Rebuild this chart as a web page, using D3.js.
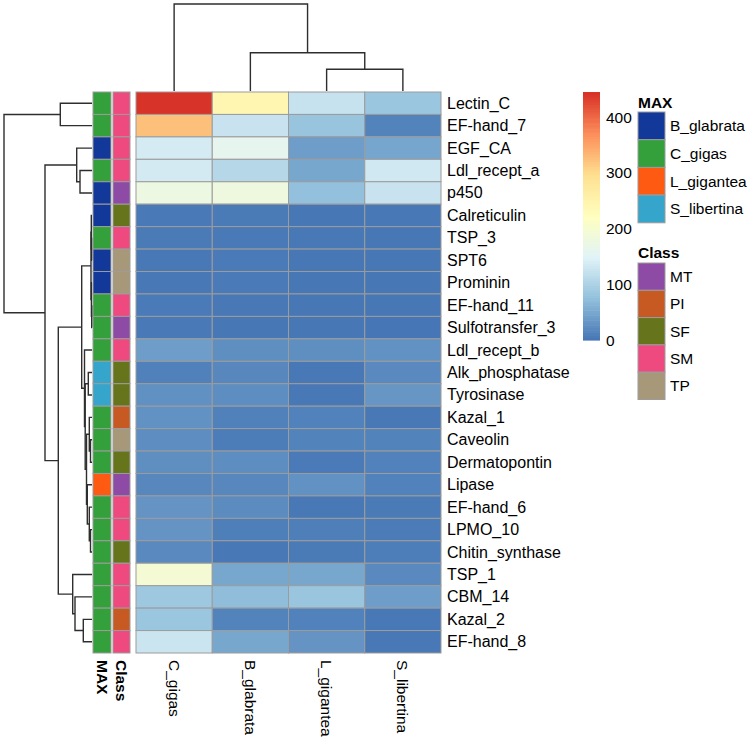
<!DOCTYPE html>
<html>
<head>
<meta charset="utf-8">
<script src="https://cdn.jsdelivr.net/npm/d3@7/dist/d3.min.js"></script>
<style>
  html, body { margin: 0; padding: 0; background: #fff; }
  text { font-family: "Liberation Sans", Arial, sans-serif; fill: #000; }
</style>
</head>
<body>
<svg id="chart" width="750" height="750"></svg>
<script>
// ---------------- DATA ----------------
const colNames = ["C_gigas", "B_glabrata", "L_gigantea", "S_libertina"];
const rowNames = ["Lectin_C", "EF-hand_7", "EGF_CA", "Ldl_recept_a", "p450", "Calreticulin", "TSP_3", "SPT6",
  "Prominin", "EF-hand_11", "Sulfotransfer_3", "Ldl_recept_b", "Alk_phosphatase", "Tyrosinase", "Kazal_1",
  "Caveolin", "Dermatopontin", "Lipase", "EF-hand_6", "LPMO_10", "Chitin_synthase", "TSP_1", "CBM_14",
  "Kazal_2", "EF-hand_8"];
const cGigas     = [443, 325, 137, 136, 178, 4, 6, 3, 3, 5, 4, 40, 12, 27, 28, 24, 25, 18, 30, 30, 20, 195, 86, 84, 128];
const bGlabrata  = [245, 126, 162, 108, 182, 6, 4, 5, 5, 3, 2, 25, 18, 24, 12, 8, 24, 18, 22, 10, 3, 50, 72, 14, 50];
const lGigantea  = [124, 81, 40, 50, 76, 2, 3, 2, 2, 2, 2, 25, 3, 3, 13, 14, 5, 28, 3, 10, 6, 50, 83, 13, 30];
const sLibertina = [84, 14, 48, 133, 126, 3, 2, 2, 2, 2, 1, 28, 20, 33, 3, 14, 13, 13, 6, 7, 9, 20, 40, 3, 3];
const seriesValues = [cGigas, bGlabrata, lGigantea, sLibertina];

const maxAnnot = ["C_gigas", "C_gigas", "B_glabrata", "C_gigas", "B_glabrata", "B_glabrata", "C_gigas", "B_glabrata",
  "B_glabrata", "C_gigas", "C_gigas", "C_gigas", "S_libertina", "S_libertina", "C_gigas", "C_gigas", "C_gigas",
  "L_gigantea", "C_gigas", "C_gigas", "C_gigas", "C_gigas", "C_gigas", "C_gigas", "C_gigas"];
const classAnnot = ["SM", "SM", "SM", "SM", "MT", "SF", "SM", "TP", "TP", "SM", "MT", "SM", "SF", "SF", "PI", "TP",
  "SF", "MT", "SM", "SM", "SF", "SM", "SM", "PI", "SM"];

const maxLevels = ["B_glabrata", "C_gigas", "L_gigantea", "S_libertina"];
const maxColors = ["#12389a", "#33a03c", "#ff5a12", "#35a5cc"];
const classLevels = ["MT", "PI", "SF", "SM", "TP"];
const classColors = ["#8e4ba6", "#c75a22", "#66741c", "#ef4a80", "#a8987a"];

const legendTicks = [0, 100, 200, 300, 400];
const valueMin = 0, valueMax = 445;
const heatColors = ["#4575B4", "#91BFDB", "#E0F3F8", "#FFFFBF", "#FEE090", "#FC8D59", "#D73027"];

// dendrogram merges: [left, right, height]; strings = leaves, numbers = earlier merge index
const rowMerges = [
  ["Lectin_C", "EF-hand_7", 317],      // 0
  ["Ldl_recept_a", "p450", 120],       // 1
  ["EGF_CA", 1, 153],                  // 2
  ["TSP_3", "SPT6", 4],                // 3
  ["Calreticulin", 3, 7],              // 4
  ["EF-hand_11", "Sulfotransfer_3", 3],// 5
  ["Prominin", 5, 6],                  // 6
  [4, 6, 10],                          // 7
  ["Alk_phosphatase", "Tyrosinase", 37], // 8
  ["Caveolin", "Dermatopontin", 15],   // 9
  ["Kazal_1", 9, 27],                  // 10
  ["LPMO_10", "Chitin_synthase", 15],  // 11
  ["EF-hand_6", 11, 27],               // 12
  ["Lipase", 12, 47],                  // 13
  [10, 13, 55],                        // 14
  [8, 14, 68],                         // 15
  ["Ldl_recept_b", 15, 75],            // 16
  [7, 16, 103],                        // 17
  ["Kazal_2", "EF-hand_8", 87],        // 18
  ["CBM_14", 18, 170],                 // 19
  ["TSP_1", 19, 193],                  // 20
  [17, 20, 337],                       // 21
  [2, 21, 470],                        // 22
  [0, 22, 880]                         // 23
];
const colMerges = [
  ["L_gigantea", "S_libertina", 217],  // 0
  ["B_glabrata", 0, 383],              // 1
  ["C_gigas", 1, 870]                  // 2
];

// ---------------- LAYOUT ----------------
const svg = d3.select("#chart");
const FONT = 15.5;
const ROWFONT = 16;
const heat = { x0: 136, x1: 441, y0: 92, y1: 653 };

const xCol = d3.scaleBand().domain(colNames).range([heat.x0, heat.x1]);
const yRow = d3.scaleBand().domain(rowNames).range([heat.y0, heat.y1]);
const color = d3.scaleLinear()
  .domain(d3.range(heatColors.length).map(i => valueMin + i * (valueMax - valueMin) / (heatColors.length - 1)))
  .range(heatColors).interpolate(d3.interpolateRgb).clamp(true);

const cells = [];
rowNames.forEach((r, i) => colNames.forEach((c, j) => cells.push({ r, c, v: seriesValues[j][i] })));

svg.append("rect").attr("width", 750).attr("height", 750).attr("fill", "#fff");

svg.append("g").selectAll("rect").data(cells).join("rect")
  .attr("x", d => xCol(d.c)).attr("y", d => yRow(d.r))
  .attr("width", xCol.bandwidth()).attr("height", yRow.bandwidth())
  .attr("fill", d => color(d.v))
  .attr("stroke", "#9c9c9c").attr("stroke-width", 1);

// annotation columns
const annCols = [
  { name: "MAX", x: 93, w: 18, vals: maxAnnot, scale: d3.scaleOrdinal(maxLevels, maxColors) },
  { name: "Class", x: 113, w: 17, vals: classAnnot, scale: d3.scaleOrdinal(classLevels, classColors) }
];
annCols.forEach(a => {
  svg.append("g").selectAll("rect").data(rowNames).join("rect")
    .attr("x", a.x).attr("y", r => yRow(r)).attr("width", a.w).attr("height", yRow.bandwidth())
    .attr("fill", (r, i) => a.scale(a.vals[i]))
    .attr("stroke", "#9c9c9c").attr("stroke-width", 1);
  svg.append("text")
    .attr("transform", `translate(${a.x + a.w / 2},${heat.y1 + 7}) rotate(90)`)
    .attr("dominant-baseline", "central").attr("font-weight", "bold")
    .attr("font-size", FONT).text(a.name);
});

// row labels
svg.append("g").selectAll("text").data(rowNames).join("text")
  .attr("x", heat.x1 + 6).attr("y", r => yRow(r) + yRow.bandwidth() / 2)
  .attr("dominant-baseline", "central").attr("font-size", ROWFONT).text(r => r);

// column labels
svg.append("g").selectAll("text").data(colNames).join("text")
  .attr("transform", c => `translate(${xCol(c) + xCol.bandwidth() / 2},${heat.y1 + 7}) rotate(90)`)
  .attr("dominant-baseline", "central").attr("font-size", FONT).text(c => c);

// ---------------- DENDROGRAMS ----------------
function drawDendro(merges, leafPos, hScale, vertical) {
  const pos = [];
  const g = svg.append("g").attr("stroke", "#2e2e2e").attr("stroke-width", 1.4).attr("fill", "none");
  const info = k => typeof k === "string" ? { p: leafPos(k), h: 0 } : { p: pos[k], h: merges[k][2] };
  merges.forEach((m, i) => {
    const a = info(m[0]), b = info(m[1]), h = m[2];
    pos[i] = (a.p + b.p) / 2;
    const H = hScale(h);
    let d;
    if (vertical) {
      d = `M${hScale(a.h)},${a.p}H${H}V${b.p}H${hScale(b.h)}`;
    } else {
      d = `M${a.p},${hScale(a.h)}V${H}H${b.p}V${hScale(b.h)}`;
    }
    g.append("path").attr("d", d);
  });
}
const rowH = d3.scaleLinear().domain([0, d3.max(rowMerges, m => m[2])]).range([92, 4]);
drawDendro(rowMerges, r => yRow(r) + yRow.bandwidth() / 2, rowH, true);
const colH = d3.scaleLinear().domain([0, d3.max(colMerges, m => m[2])]).range([91, 4]);
drawDendro(colMerges, c => xCol(c) + xCol.bandwidth() / 2, colH, false);

// ---------------- LEGENDS ----------------
const bar = { x: 583, w: 17, y0: 92, y1: 340 };
const yLeg = d3.scaleLinear().domain([valueMin, valueMax]).range([bar.y1, bar.y0]);
const nSteps = 100;
const steps = d3.range(nSteps).map(i => valueMin + (i + 0.5) * (valueMax - valueMin) / nSteps);
svg.append("g").selectAll("rect").data(steps).join("rect")
  .attr("x", bar.x).attr("width", bar.w)
  .attr("y", v => yLeg(v + (valueMax - valueMin) / nSteps / 2))
  .attr("height", (bar.y1 - bar.y0) / nSteps + 0.6)
  .attr("fill", v => color(v));
svg.append("g").selectAll("text").data(legendTicks).join("text")
  .attr("x", bar.x + bar.w + 6).attr("y", v => yLeg(v))
  .attr("dominant-baseline", "central").attr("font-size", FONT).text(v => v);

function discreteLegend(title, levels, colors, yTitle, yBox, boxH) {
  const x = 638, w = 27;
  svg.append("text").attr("x", x).attr("y", yTitle).attr("dominant-baseline", "central")
    .attr("font-weight", "bold").attr("font-size", FONT).text(title);
  const g = svg.append("g");
  g.selectAll("rect").data(levels).join("rect")
    .attr("x", x).attr("y", (d, i) => yBox + i * boxH).attr("width", w).attr("height", boxH)
    .attr("fill", (d, i) => colors[i]).attr("stroke", "#9c9c9c").attr("stroke-width", 1);
  g.selectAll("text").data(levels).join("text")
    .attr("x", x + w + 5).attr("y", (d, i) => yBox + i * boxH + boxH / 2)
    .attr("dominant-baseline", "central").attr("font-size", FONT).text(d => d);
}
discreteLegend("MAX", maxLevels, maxColors, 102, 112, 27.7);
discreteLegend("Class", classLevels, classColors, 252, 263, 27.3);
</script>
</body>
</html>
